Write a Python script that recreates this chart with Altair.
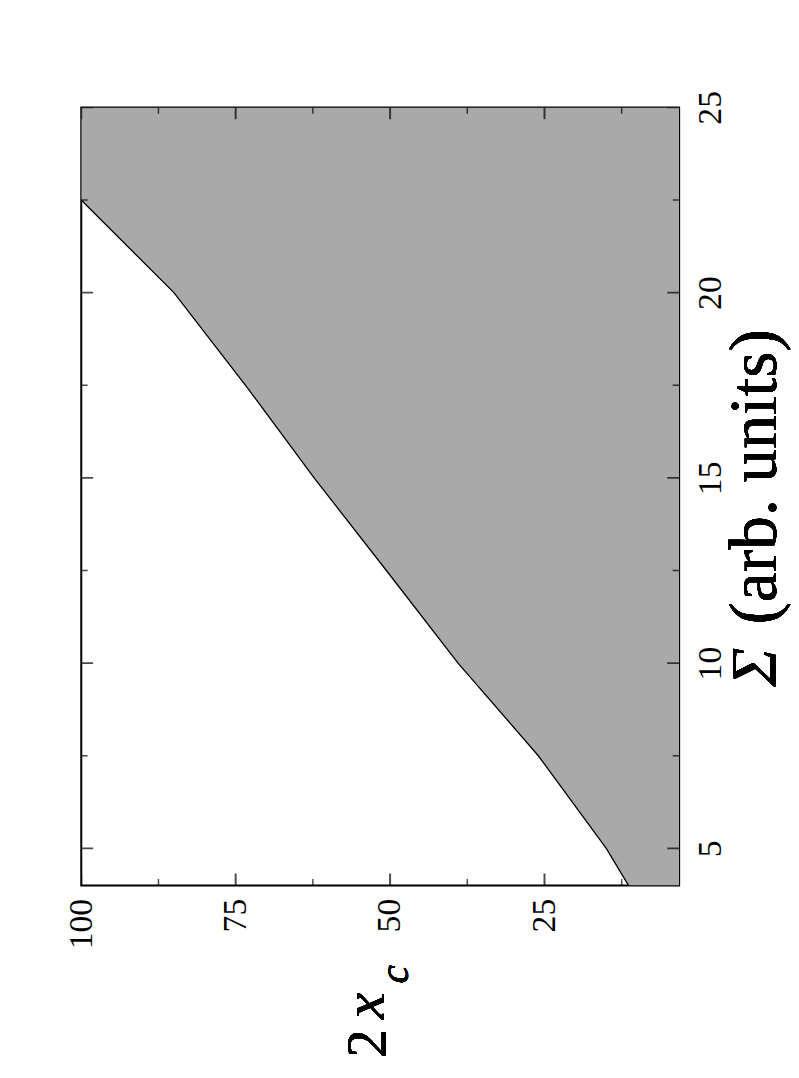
import altair as alt
import pandas as pd

# ---- data ----
sigma = [4.0, 5.0, 7.5, 10.0, 12.5, 15.0, 17.5, 20.0, 22.5]
two_xc = [11.4, 15.0, 26.0, 39.0, 50.6, 62.3, 73.4, 85.0, 100.0]
sigma_top = [25.0]
two_xc_top = [100.0]

x_min, x_max = 3.2, 100.0
y_min, y_max = 4.0, 25.0

x_labels = [100, 75, 50, 25]
x_minor = [87.5, 62.5, 37.5, 12.5]
y_labels = [5, 10, 15, 20, 25]
y_minor = [7.5, 12.5, 17.5, 22.5]

FONT = "Liberation Serif"

line_df = pd.DataFrame({"sigma": sigma, "xc": two_xc})
area_df = pd.DataFrame({
    "sigma": sigma + sigma_top,
    "xc": two_xc + two_xc_top,
    "edge": [x_min] * (len(sigma) + len(sigma_top)),
})
xmaj_df = pd.DataFrame({"v": x_labels})
xmin_df = pd.DataFrame({"v": x_minor})
ymaj_df = pd.DataFrame({"v": y_labels})
ymin_df = pd.DataFrame({"v": y_minor})

xscale = alt.Scale(domain=[x_min, x_max], reverse=True, nice=False, zero=False)
yscale = alt.Scale(domain=[y_min, y_max], nice=False, zero=False)

xaxis = alt.Axis(
    orient="bottom", values=x_labels, title=None, grid=False, domain=False,
    ticks=False, tickSize=0, labelAngle=270, labelAlign="right",
    labelBaseline="middle", labelPadding=13, labelFont=FONT,
    labelFontSize=34, labelColor="black", labelOverlap=False, labelFlush=False,
)
yaxis = alt.Axis(
    orient="right", values=y_labels, title=None, grid=False, domain=False,
    ticks=False, tickSize=0, labelAngle=270, labelAlign="center",
    labelBaseline="top", labelPadding=15, labelFont=FONT,
    labelFontSize=34, labelColor="black", labelOverlap=False, labelFlush=False,
)

area = alt.Chart(area_df).mark_area(
    orient="horizontal", color="#a9a9a9", clip=True
).encode(
    y=alt.Y("sigma:Q", scale=yscale, axis=yaxis),
    x=alt.X("xc:Q", scale=xscale, axis=xaxis),
    x2="edge:Q",
)

line = alt.Chart(line_df).mark_line(
    color="black", strokeWidth=1.3, clip=True
).encode(
    y=alt.Y("sigma:Q", scale=yscale),
    x=alt.X("xc:Q", scale=xscale),
    order="sigma:Q",
)


def vticks(df, at, size, thick):
    return alt.Chart(df).mark_tick(
        orient="vertical", color="black", size=size, thickness=thick, clip=True
    ).encode(x=alt.X("v:Q", scale=xscale), y=alt.datum(at))


def hticks(df, at, size, thick):
    return alt.Chart(df).mark_tick(
        orient="horizontal", color="black", size=size, thickness=thick, clip=True
    ).encode(y=alt.Y("v:Q", scale=yscale), x=alt.datum(at))


ticks = [
    vticks(xmaj_df, y_min, 24, 2), vticks(xmaj_df, y_max, 24, 2),
    vticks(xmin_df, y_min, 13, 1.5), vticks(xmin_df, y_max, 13, 1.5),
    hticks(ymaj_df, x_min, 24, 2), hticks(ymaj_df, x_max, 24, 2),
    hticks(ymin_df, x_min, 13, 1.5), hticks(ymin_df, x_max, 13, 1.5),
]


def label(text, x, y, size, style="normal", align="left"):
    return alt.Chart(line_df).mark_text(
        text=text, angle=270, align=align, baseline="alphabetic",
        font=FONT, fontSize=size, fontStyle=style, color="black",
    ).encode(x=alt.value(x), y=alt.value(y))


titles = [
    label("\u03a3", 702, 585, 66, "italic", "left"),
    label("(arb. units)", 702, 224, 68, "normal", "right"),
    label("2", 308, 960, 58, "normal", "left"),
    label("x", 306, 921, 60, "italic", "left"),
    label("c", 330, 885, 42, "italic", "left"),
]

chart = alt.layer(area, line, *ticks, *titles).properties(
    width=604,
    height=786,
    padding={"left": 74, "top": 95, "right": 113, "bottom": 176},
    autosize=alt.AutoSizeParams(type="none"),
    background="white",
).configure(
    font=FONT,
    view=alt.ViewConfig(stroke="black", strokeWidth=2),
)

chart.save("out.html", embed_options={"renderer": "svg", "actions": False})
